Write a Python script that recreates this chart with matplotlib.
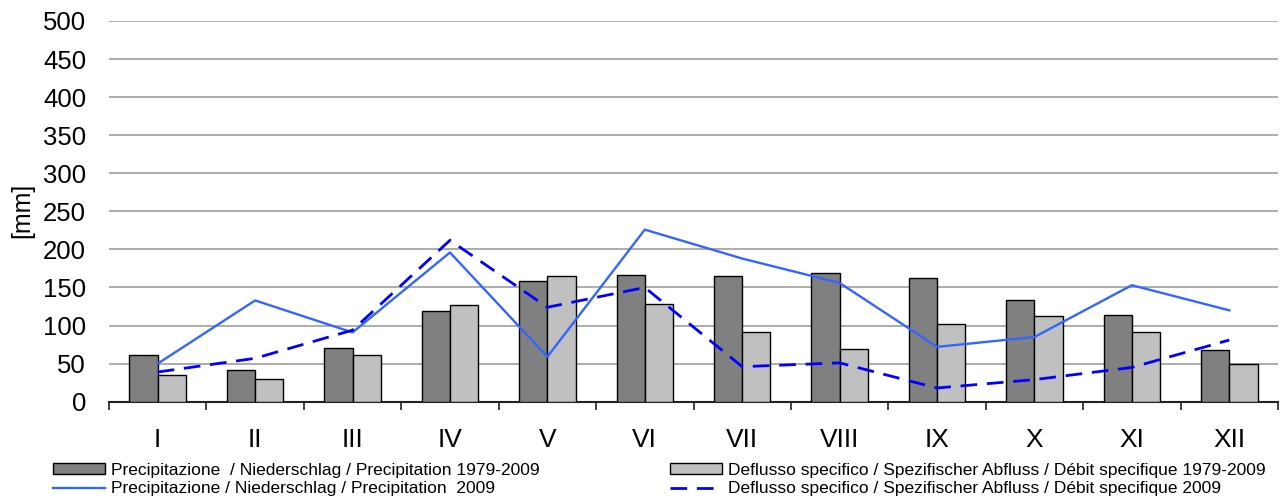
import matplotlib
matplotlib.use("Agg")
import matplotlib.pyplot as plt
import numpy as np
from matplotlib.patches import Patch
from matplotlib.lines import Line2D

months = ["I", "II", "III", "IV", "V", "VI", "VII", "VIII", "IX", "X", "XI", "XII"]
precip_mean = [61, 42, 70, 119, 159, 167, 165, 169, 162, 133, 114, 68]
runoff_mean = [35, 30, 61, 127, 165, 128, 91, 69, 102, 113, 91, 49]
precip_2009 = [50, 133, 91, 196, 59, 226, 188, 156, 72, 85, 153, 120]
runoff_2009 = [39, 57, 94, 212, 124, 150, 46, 51, 18, 29, 45, 81]

lab_pm = "Precipitazione  / Niederschlag / Precipitation 1979-2009"
lab_rm = "Deflusso specifico / Spezifischer Abfluss / Débit specifique 1979-2009"
lab_p9 = "Precipitazione / Niederschlag / Precipitation  2009"
lab_r9 = "Deflusso specifico / Spezifischer Abfluss / Débit specifique 2009"

plt.rcParams['font.family'] = ['Liberation Sans', 'DejaVu Sans']

W, H = 1287, 500
fig = plt.figure(figsize=(W / 100, H / 100), dpi=100)
ax = fig.add_axes([109 / W, 1 - 401.7 / H, (1278 - 109) / W, (401.7 - 21) / H])

DASH = (6, 3.5)
x = np.arange(len(months))
w = 0.29
ax.bar(x - w / 2, precip_mean, width=w, color="#808080", edgecolor="#000000", linewidth=1.0, zorder=3)
ax.bar(x + w / 2, runoff_mean, width=w, color="#C0C0C0", edgecolor="#000000", linewidth=1.0, zorder=3)
ax.plot(x, precip_2009, color="#3366FF", linewidth=1.7, zorder=4)
ax.plot(x, runoff_2009, color="#0000FF", linewidth=2.0, dashes=DASH, zorder=4)

ax.set_xlim(-0.5, len(months) - 0.5)
ax.set_ylim(0, 500)
ax.set_yticks(np.arange(0, 501, 50))
ax.yaxis.grid(True, color="#A6A6A6", linewidth=1.3, zorder=0)
ax.set_axisbelow(True)
for s in ["left", "right", "top"]:
    ax.spines[s].set_visible(False)
ax.spines["bottom"].set_color("#222222")
ax.spines["bottom"].set_linewidth(1.5)
ax.tick_params(axis="y", length=0, labelsize=18.5, pad=16.5)
ax.set_xticks(x)
ax.set_xticklabels(months)
ax.tick_params(axis="x", which="major", length=0, labelsize=19, pad=19)
ax.set_xticks(np.arange(-0.5, len(months), 1.0), minor=True)
ax.tick_params(axis="x", which="minor", length=6, width=1.2, color="#222222", direction="out")
fig.text(22 / W, 1 - 210.5 / H, "[mm]", rotation=90, ha="center", va="center", fontsize=18)

kw = dict(frameon=False, fontsize=12.5, handlelength=3.0, handleheight=0.55,
          handletextpad=0.33, borderaxespad=0, borderpad=0, loc="center left")
items = [
    (Patch(facecolor="#808080", edgecolor="#000000", linewidth=1.0), lab_pm, 53, 470),
    (Line2D([0], [0], color="#3366FF", linewidth=1.7), lab_p9, 53, 489),
    (Patch(facecolor="#C0C0C0", edgecolor="#000000", linewidth=1.0), lab_rm, 670, 470),
    (Line2D([0], [0], color="#0000FF", linewidth=2.0, dashes=DASH), lab_r9, 670, 489),
]
for h, lab, px, py in items:
    fig.legend([h], [lab], bbox_to_anchor=(px / W, 1 - py / H), **kw)

fig.savefig("out.png", dpi=100)
